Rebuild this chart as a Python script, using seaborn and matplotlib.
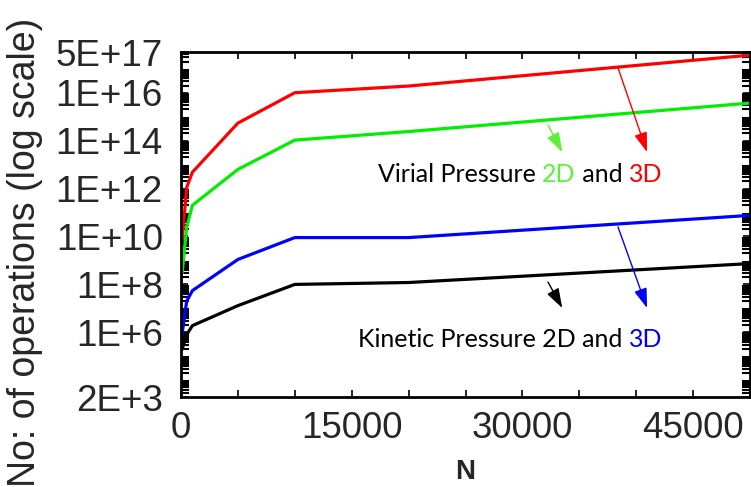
import numpy as np
import pandas as pd
import seaborn as sns
import matplotlib.pyplot as plt
from matplotlib.ticker import FixedLocator, LogLocator, MultipleLocator, NullFormatter

# ===== DATA =====
N = [100, 500, 1000, 5000, 10000, 20000, 50000]
virial_3d = [7e9, 1.1e12, 4.8e12, 5.4e14, 1e16, 1.9e16, 3.7e17]
virial_2d = [3e8, 2.4e10, 2e11, 6.3e12, 1.05e14, 2.4e14, 3.7e15]
kinetic_3d = [8.7e5, 2e7, 5.5e7, 1.1e9, 9e9, 9e9, 7.6e10]
kinetic_2d = [2e5, 8e5, 1.9e6, 1.3e7, 1e8, 1.2e8, 7.4e8]

series_names = ["Virial 3D", "Virial 2D", "Kinetic 3D", "Kinetic 2D"]
series_colors = ["#ff0000", "#00ee00", "#0000ff", "#000000"]

ytick_vals = [2e3, 1e6, 1e8, 1e10, 1e12, 1e14, 1e16, 5e17]
ytick_labels = ["2E+3", "1E+6", "1E+8", "1E+10", "1E+12", "1E+14", "1E+16", "5E+17"]
xtick_vals = [0, 15000, 30000, 45000]
xtick_labels = ["0", "15000", "30000", "45000"]

df = pd.DataFrame({
    "N": N * 4,
    "ops": virial_3d + virial_2d + kinetic_3d + kinetic_2d,
    "series": [s for s in series_names for _ in N],
})

# ===== PLOT =====
sns.set_style("ticks")
plt.rcParams["font.family"] = ["Liberation Sans", "DejaVu Sans"]

fig = plt.figure(figsize=(7.51, 4.87), dpi=100)
ax = fig.add_axes([0.241, 0.1848, 0.7577, 0.7084])

sns.lineplot(data=df, x="N", y="ops", hue="series", hue_order=series_names,
             palette=series_colors, linewidth=2.3, legend=False, ax=ax)

ax.set_yscale("log")
ax.set_xlim(0, 50000)
ax.set_ylim(2e3, 5e17)

ax.yaxis.set_major_locator(FixedLocator(ytick_vals))
ax.set_yticklabels(ytick_labels)
ax.yaxis.set_minor_locator(LogLocator(base=10, subs=np.arange(2, 10), numticks=200))
ax.yaxis.set_minor_formatter(NullFormatter())
ax.set_xticks(xtick_vals)
ax.set_xticklabels(xtick_labels)
ax.xaxis.set_minor_locator(MultipleLocator(5000))

ax.tick_params(which="both", direction="in", top=True, right=True, color="black")
ax.tick_params(which="both", length=5, width=1.2)
ax.tick_params(which="major", labelsize=26.5)
ax.tick_params(axis="x", which="major", pad=10)
ax.tick_params(axis="y", which="major", pad=13)
ax.tick_params(axis="y", which="minor", length=6, width=1.5)
for sp in ax.spines.values():
    sp.set_color("black")
    sp.set_linewidth(2)

ax.set_xlabel("")
ax.set_ylabel("")
fig.text(465.5 / 751, 0.004, "N", fontsize=20, fontweight="bold",
         ha="center", va="bottom")
fig.text(25 / 751, 0.0, "No: of operations (log scale)", fontsize=27,
         rotation=90, ha="center", va="bottom")

# ===== Annotations =====
afont = dict(family=["Lato", "DejaVu Sans"], fontsize=18)
green_txt = "#5cf03c"
t = ax.text(0.346, 0.623, "Virial Pressure ", transform=ax.transAxes,
            va="baseline", ha="left", color="black", **afont)
t = ax.annotate("2D", xy=(1, 0), xycoords=t, va="bottom", ha="left", color=green_txt, **afont)
t = ax.annotate(" and ", xy=(1, 0), xycoords=t, va="bottom", ha="left", color="black", **afont)
ax.annotate("3D", xy=(1, 0), xycoords=t, va="bottom", ha="left", color="#ff0000", **afont)

t = ax.text(0.311, 0.145, "Kinetic Pressure 2D and ", transform=ax.transAxes,
            va="baseline", ha="left", color="black", **afont)
ax.annotate("3D", xy=(1, 0), xycoords=t, va="bottom", ha="left", color="#0000ff", **afont)

arrows = [
    ((0.768, 0.954), (0.819, 0.710), "#ff0000"),
    ((0.645, 0.788), (0.670, 0.710), green_txt),
    ((0.768, 0.493), (0.819, 0.258), "#0000ff"),
    ((0.645, 0.333), (0.670, 0.258), "#000000"),
]
for start, end, col in arrows:
    ax.annotate("", xy=end, xytext=start, xycoords="axes fraction",
                textcoords="axes fraction",
                arrowprops=dict(arrowstyle="-|>,head_length=0.6,head_width=0.2",
                                mutation_scale=20, lw=1, color=col,
                                shrinkA=0, shrinkB=0))

fig.savefig("out.png", dpi=100)
